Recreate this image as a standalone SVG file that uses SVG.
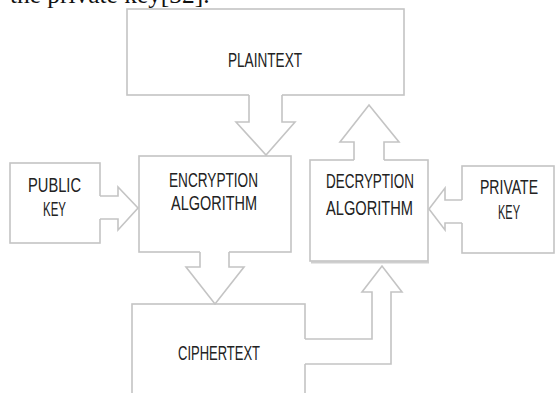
<svg xmlns="http://www.w3.org/2000/svg" width="555" height="393" viewBox="0 0 555 393">
  <style>
    .box { fill: #ffffff; stroke: #c4c4c4; stroke-width: 1.6; }
    .arrow-fill { fill: #ffffff; stroke: none; }
    .arrow-line { fill: none; stroke: #c4c4c4; stroke-width: 1.6; stroke-linejoin: miter; }
    .label { font-family: "Liberation Sans", Arial, sans-serif; font-size: 19.5px; fill: #222222; }
    .body { font-family: "Liberation Serif", "Times New Roman", serif; font-size: 25.4px; fill: #111111; }
  </style>
  <rect width="555" height="393" fill="#ffffff"/>

  <!-- running text above the figure, cut at the top edge -->
  <text class="body" x="10" y="2.5">the private key[32].</text>

  <g id="plaintext">
    <rect class="box" x="127" y="9" width="277" height="86"/>
    <text class="label" x="228" y="67" textLength="74" lengthAdjust="spacingAndGlyphs">PLAINTEXT</text>
  </g>

  <g id="public-key">
    <rect class="box" x="10" y="163" width="90" height="80"/>
    <text class="label" x="28" y="192" textLength="53" lengthAdjust="spacingAndGlyphs">PUBLIC</text>
    <text class="label" x="43" y="216" textLength="23" lengthAdjust="spacingAndGlyphs">KEY</text>
  </g>

  <g id="encryption">
    <rect class="box" x="139" y="156" width="152" height="96"/>
    <text class="label" x="169" y="187" textLength="89" lengthAdjust="spacingAndGlyphs">ENCRYPTION</text>
    <text class="label" x="171" y="210" textLength="86" lengthAdjust="spacingAndGlyphs">ALGORITHM</text>
  </g>

  <g id="decryption">
    <line x1="311" y1="262.5" x2="429" y2="262.5" stroke="#cfcfcf" stroke-width="2"/>
    <rect class="box" x="310" y="160" width="118" height="101"/>
    <text class="label" x="326" y="188" textLength="88" lengthAdjust="spacingAndGlyphs">DECRYPTION</text>
    <text class="label" x="326" y="215" textLength="87" lengthAdjust="spacingAndGlyphs">ALGORITHM</text>
  </g>

  <g id="private-key">
    <rect class="box" x="462" y="166" width="92" height="87"/>
    <text class="label" x="480" y="194" textLength="58" lengthAdjust="spacingAndGlyphs">PRIVATE</text>
    <text class="label" x="498" y="219" textLength="22" lengthAdjust="spacingAndGlyphs">KEY</text>
  </g>

  <g id="ciphertext">
    <rect class="box" x="132" y="304" width="173" height="100"/>
    <text class="label" x="178" y="360" textLength="82" lengthAdjust="spacingAndGlyphs">CIPHERTEXT</text>
  </g>

  <!-- block arrows; the white fill opens each shaft into its source box -->
  <g id="connectors">
    <!-- plaintext -> encryption -->
    <polygon class="arrow-fill" points="249,93 282,93 282,122 295,122 266,155 236,122 249,122"/>
    <polyline class="arrow-line" points="249,95 249,122 236,122 266,155 295,122 282,122 282,95"/>

    <!-- decryption -> plaintext -->
    <polygon class="arrow-fill" points="354,162 354,142 340,142 369,105 399,142 384,142 384,162"/>
    <polyline class="arrow-line" points="354,160 354,142 340,142 369,105 399,142 384,142 384,160"/>

    <!-- public key -> encryption -->
    <polygon class="arrow-fill" points="98,196 118,196 118,187 138,208 118,230 118,219 98,219"/>
    <polyline class="arrow-line" points="100,196 118,196 118,187 138,208 118,230 118,219 100,219"/>

    <!-- private key -> decryption -->
    <polygon class="arrow-fill" points="464,200 445,200 445,188 429,209 445,230 445,223 464,223"/>
    <polyline class="arrow-line" points="462,200 445,200 445,188 429,209 445,230 445,223 462,223"/>

    <!-- encryption -> ciphertext -->
    <polygon class="arrow-fill" points="200,250 229,250 229,267 244,267 215,304 186,267 200,267"/>
    <polyline class="arrow-line" points="200,252 200,267 186,267 215,304 244,267 229,267 229,252"/>

    <!-- ciphertext -> decryption (elbow) -->
    <polygon class="arrow-fill" points="303,339 372,339 372,292 362,292 382,266 402,292 391,292 391,364 303,364"/>
    <polyline class="arrow-line" points="305,339 372,339 372,292 362,292 382,266 402,292 391,292 391,364 305,364"/>
  </g>
</svg>
